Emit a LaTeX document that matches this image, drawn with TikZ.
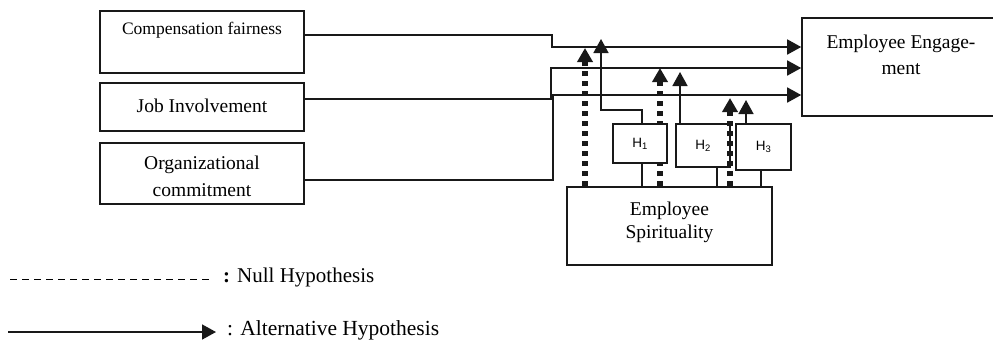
\documentclass[tikz,border=0pt]{standalone}
\usepackage{fontspec}
\setmainfont{Liberation Serif}
\newfontfamily\hsans{Liberation Sans}
\usetikzlibrary{arrows.meta}
\begin{document}
\begin{tikzpicture}[x=1pt,y=-1pt,
  box/.style={draw=black!90,line width=1.6pt,fill=white,inner sep=0pt,anchor=center},
  txt/.style={inner sep=0pt,align=center,font=\fontsize{19.5}{26}\selectfont},
  hbox/.style={box,font=\hsans\fontsize{13.5}{15}\selectfont},
  conn/.style={line width=1.6pt,draw=black!90},
  arr/.style={conn,-{Triangle[length=14pt,width=15pt]}},
  dotarr/.style={line width=5.5pt,draw=black!90,dash pattern=on 5pt off 5pt,-{Triangle[length=14pt,width=15pt]}}
]
\useasboundingbox (0,0) rectangle (993,341);
% left boxes
\node[box,minimum width=204pt,minimum height=62pt] (comp) at (202,42) {};
\node[txt,font=\fontsize{17.5}{21}\selectfont] (compt) at (202,30) {Compensation fairness};
\node[box,minimum width=204pt,minimum height=48pt] (job) at (202,107) {};
\node[txt] (jobt) at (202,106) {Job Involvement};
\node[box,minimum width=204pt,minimum height=61pt] (org) at (202,173.5) {};
\node[txt,font=\fontsize{19.5}{27}\selectfont] (orgt) at (202,176) {Organizational\\commitment};
% engagement
\node[box,minimum width=198pt,minimum height=98pt] (ee) at (901,67) {};
\node[txt,font=\fontsize{19.5}{26}\selectfont] (eet) at (901,55) {Employee Engage-\\ment};
% spirituality
\node[box,minimum width=205pt,minimum height=78pt] (spir) at (669.5,226) {};
\node[txt,font=\fontsize{19.5}{23}\selectfont] (spirt) at (669.5,222) {Employee\\Spirituality};
% main connectors
\coordinate (c1a) at (552,35);
\coordinate (c1b) at (552,47);
\draw[arr] (comp.east |- c1a) -- (c1a) -- (c1b) -- (ee.west |- c1b);
\coordinate (c2a) at (551,99);
\coordinate (c2b) at (551,68);
\draw[arr] (job.east |- c2a) -- (c2a) -- (c2b) -- (ee.west |- c2b);
\coordinate (c3a) at (553,180);
\coordinate (c3b) at (553,95);
\draw[arr] (org.east |- c3a) -- (c3a) -- (c3b) -- (ee.west |- c3b);
% dotted arrows (drawn before H boxes)
\coordinate (d1) at (585,48);
\coordinate (d2) at (660,68);
\coordinate (d3) at (730,98);
\draw[dotarr] (spir.north -| d1) -- (d1);
\draw[dotarr] (spir.north -| d2) -- (d2);
% H boxes
\node[hbox,minimum width=54pt,minimum height=39pt] (h1) at (640,143.5) {H\textsubscript{1}};
\node[hbox,minimum width=54pt,minimum height=43pt] (h2) at (703,145.5) {H\textsubscript{2}};
\node[hbox,minimum width=55pt,minimum height=46pt] (h3) at (763.5,147) {H\textsubscript{3}};
\draw[dotarr] (spir.north -| d3) -- (d3);
% H connectors
\coordinate (e1) at (642,110);
\coordinate (e1b) at (601,110);
\coordinate (t1) at (601,39);
\draw[arr] (h1.north -| e1) -- (e1) -- (e1b) -- (t1);
\coordinate (b1) at (642,170);
\draw[conn] (spir.north -| b1) -- (h1.south -| b1);
\coordinate (t2) at (680,72);
\draw[arr] (h2.north -| t2) -- (t2);
\coordinate (b2) at (717,170);
\draw[conn] (spir.north -| b2) -- (h2.south -| b2);
\coordinate (t3) at (746,100);
\draw[arr] (h3.north -| t3) -- (t3);
\coordinate (b3) at (761,175);
\draw[conn] (spir.north -| b3) -- (h3.south -| b3);
% legend
\coordinate (n1) at (10,279);
\coordinate (n2) at (213,279);
\draw[line width=1pt,dash pattern=on 7pt off 5pt] (n1) -- (n2);
\node[txt,anchor=west,font=\fontsize{21}{26}\selectfont] (nullt) at (223,277) {\textbf{:} Null Hypothesis};
\coordinate (a1) at (8,332);
\coordinate (a2) at (216,332);
\draw[arr] (a1) -- (a2);
\node[txt,anchor=west,font=\fontsize{21.5}{26}\selectfont] (altt) at (227,330) {: Alternative Hypothesis};
\end{tikzpicture}
\end{document}
